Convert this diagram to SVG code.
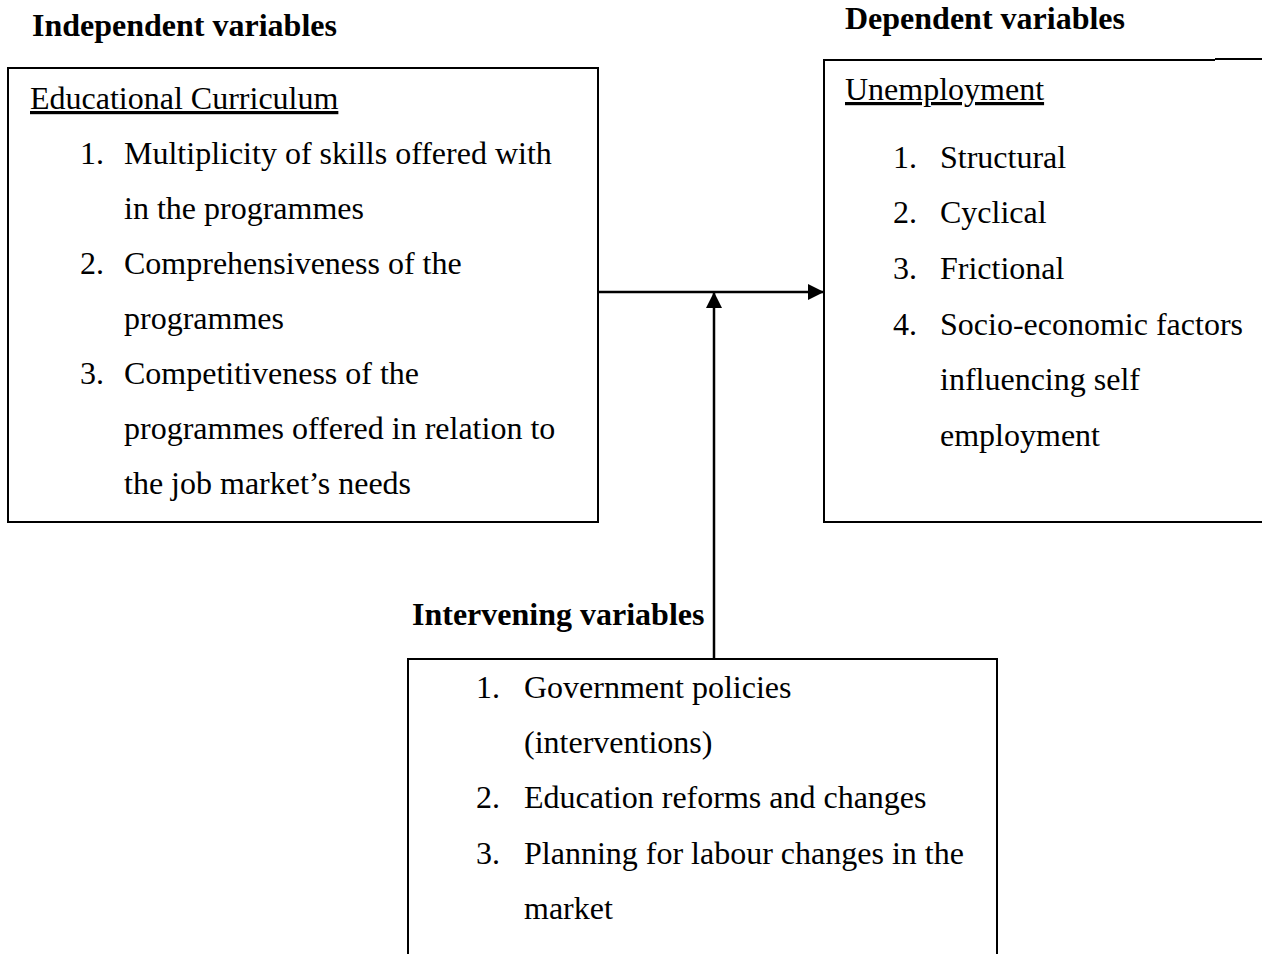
<svg xmlns="http://www.w3.org/2000/svg" width="1262" height="954" viewBox="0 0 1262 954">
<style>
.t{font-family:"Liberation Serif","Times New Roman",serif;font-size:32px;fill:#000}
.b{font-weight:bold}
.u{text-decoration:underline}
.box{fill:#fff;stroke:#000;stroke-width:2}
.ln{stroke:#000;stroke-width:2.5;fill:none}
</style>
<defs>
<marker id="ah2" markerWidth="16" markerHeight="16" refX="16" refY="8" orient="auto" markerUnits="userSpaceOnUse" viewBox="0 0 16 16">
<path d="M0,0 L16,8 L0,16 Z" fill="#000"/>
</marker>
</defs>
<rect width="1262" height="954" fill="#fff"/>
<text class="t b" x="32" y="36">Independent variables</text>
<text class="t b" x="845" y="29">Dependent variables</text>
<text class="t b" x="412" y="625">Intervening variables</text>
<g id="independent">
<rect class="box" x="8" y="68" width="590" height="454"/>
<text class="t u" x="30" y="109">Educational Curriculum</text>
<text class="t" x="80" y="164">1.</text><text class="t" x="124" y="164">Multiplicity of skills offered with</text>
<text class="t" x="124" y="219">in the programmes</text>
<text class="t" x="80" y="274">2.</text><text class="t" x="124" y="274">Comprehensiveness of the</text>
<text class="t" x="124" y="329">programmes</text>
<text class="t" x="80" y="384">3.</text><text class="t" x="124" y="384">Competitiveness of the</text>
<text class="t" x="124" y="439">programmes offered in relation to</text>
<text class="t" x="124" y="494">the job market’s needs</text>
</g>
<g id="dependent">
<path class="box" d="M1262,522 L824,522 L824,60 L1215,60" />
<path d="M1215,59 L1262,59" stroke="#000" stroke-width="2"/>
<text class="t u" x="845" y="100">Unemployment</text>
<text class="t" x="893" y="168">1.</text><text class="t" x="940" y="168">Structural</text>
<text class="t" x="893" y="223">2.</text><text class="t" x="940" y="223">Cyclical</text>
<text class="t" x="893" y="279">3.</text><text class="t" x="940" y="279">Frictional</text>
<text class="t" x="893" y="335">4.</text><text class="t" x="940" y="335">Socio-economic factors</text>
<text class="t" x="940" y="390">influencing self</text>
<text class="t" x="940" y="446">employment</text>
</g>
<g id="intervening">
<path class="box" d="M408,960 L408,659 L997,659 L997,960"/>
<text class="t" x="476" y="698">1.</text><text class="t" x="524" y="698">Government policies</text>
<text class="t" x="524" y="753">(interventions)</text>
<text class="t" x="476" y="808">2.</text><text class="t" x="524" y="808">Education reforms and changes</text>
<text class="t" x="476" y="864">3.</text><text class="t" x="524" y="864">Planning for labour changes in the</text>
<text class="t" x="524" y="919">market</text>
</g>
<g id="connectors">
<line class="ln" x1="598" y1="292" x2="824" y2="292" marker-end="url(#ah2)"/>
<line class="ln" x1="714" y1="659" x2="714" y2="292" marker-end="url(#ah2)"/>
</g>
</svg>
